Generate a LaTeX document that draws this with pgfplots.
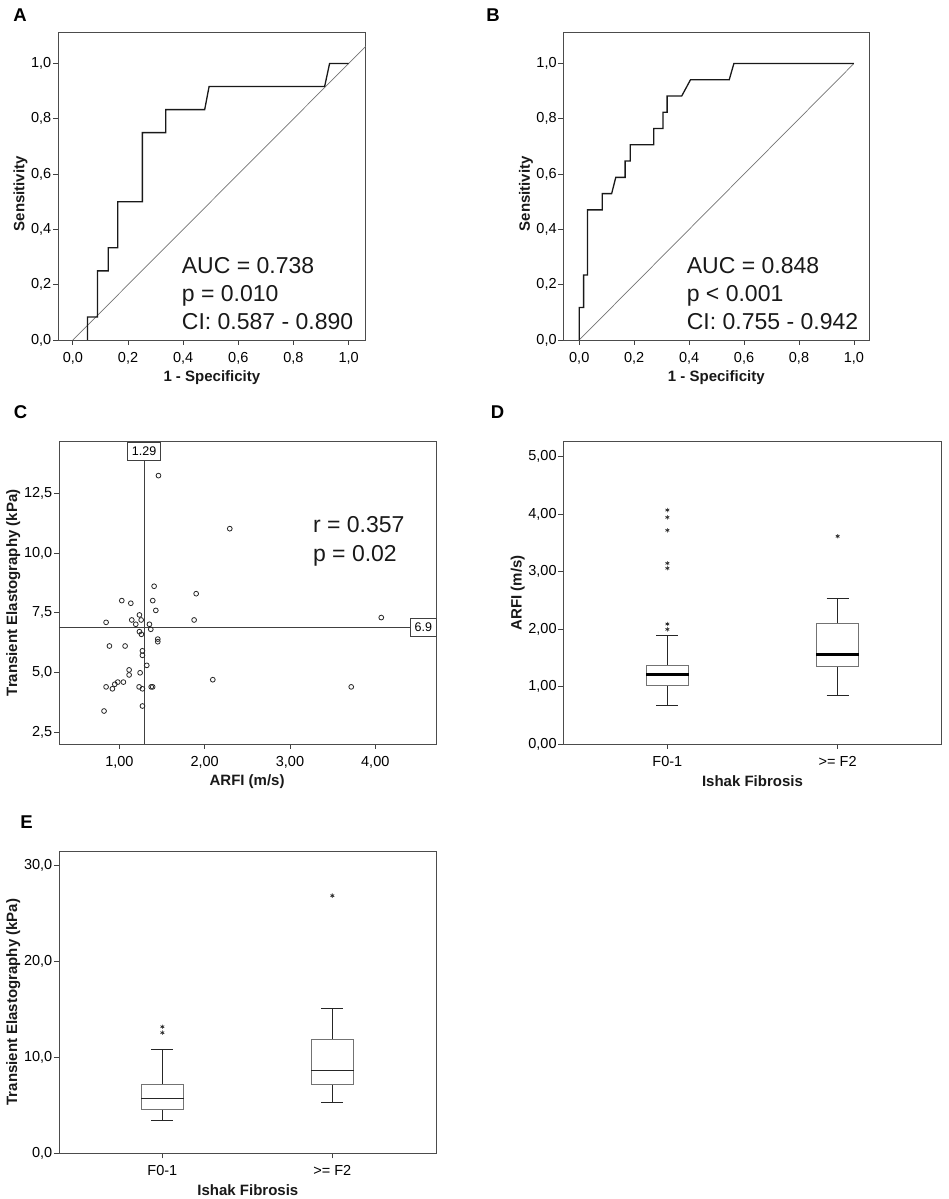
\documentclass[border=0pt]{standalone}
\usepackage{fontspec}
\setmainfont{Liberation Sans}
\usepackage{pgfplots}
\pgfplotsset{compat=1.18}
\usepgfplotslibrary{statistics}

\pgfplotstableread{
x y
1.458 13.24
2.294 11.02
1.407 8.61
1.900 8.30
1.028 8.01
1.134 7.90
1.391 8.01
1.427 7.60
0.844 7.10
1.145 7.20
1.235 7.41
1.255 7.20
1.192 7.02
1.352 7.02
1.368 6.81
1.876 7.20
4.070 7.30
1.235 6.71
1.258 6.60
1.450 6.40
1.450 6.29
0.883 6.11
1.067 6.11
1.270 5.91
1.270 5.72
1.321 5.30
1.114 5.11
1.114 4.90
1.243 4.99
1.047 4.60
0.981 4.60
0.946 4.51
0.918 4.32
0.844 4.40
1.231 4.40
1.270 4.32
1.373 4.40
1.390 4.40
2.095 4.70
3.718 4.40
0.820 3.39
1.270 3.60
}\scatterdata

\tikzset{
  bigtext/.style={font=\fontsize{23}{27}\selectfont, text=black!90, anchor=base west, inner sep=0pt},
  letter/.style={font=\bfseries\fontsize{18.5}{22}\selectfont, anchor=center},
}

\pgfplotsset{
  panel/.style={
    scale only axis,
    axis line style={draw=black!70, line width=0.8pt},
    tick align=outside,
    major tick length=5pt,
    xtick pos=bottom, ytick pos=left,
    tick style={black!75, line width=0.8pt},
    ticklabel style={font=\fontsize{14.5}{17}\selectfont, text=black},
    yticklabel style={inner xsep=1.5pt},
    xticklabel style={yshift=-3.5pt},
    label style={font=\bfseries\fontsize{15}{18}\selectfont, text=black!90},
    clip=true,
  },
  roc/.style={panel, ymin=0, ymax=1.113,
    xtick={0,0.2,0.4,0.6,0.8,1},
    xticklabels={{0,0},{0,2},{0,4},{0,6},{0,8},{1,0}},
    ytick={0,0.2,0.4,0.6,0.8,1},
    yticklabels={{0,0},{0,2},{0,4},{0,6},{0,8},{1,0}},
    xlabel={1 - Specificity}, ylabel={Sensitivity},
    xlabel style={at={(axis description cs:0.5,-0.1225)}, anchor=center},
    ylabel style={at={(axis description cs:-0.122,0.475)}, anchor=center},
  },
  bx/.style={draw=black!55, line width=0.9pt,
    boxplot/draw direction=y,
    boxplot/every whisker/.style={black!85, line width=1pt}},
}

\begin{document}
\begin{tikzpicture}
\path[use as bounding box] (0,0) rectangle (948pt,1199pt);

% Panel letters
\node[letter] at (20pt,1184pt) {A};
\node[letter] at (493pt,1184pt) {B};
\node[letter] at (20.5pt,787pt) {C};
\node[letter] at (497.5pt,787pt) {D};
\node[letter] at (26.5pt,377pt) {E};

% ---------- A ----------
\begin{axis}[roc, at={(58pt,859pt)}, anchor=south west,
  width=307.7pt, height=307.7pt, xmin=-0.054, xmax=1.062]
\addplot[black!55, line width=0.7pt] coordinates {(0,0) (1.062,1.062)};
\addplot[black!90, line width=1.3pt] coordinates {
(0.053,0) (0.053,0.0833) (0.089,0.0833) (0.089,0.25) (0.128,0.25)
(0.128,0.3333) (0.163,0.3333) (0.163,0.5) (0.252,0.5) (0.252,0.75)
(0.337,0.75) (0.337,0.8333) (0.478,0.8333) (0.494,0.9167) (0.913,0.9167)
(0.931,1) (1,1)};
\node[bigtext] at (rel axis cs:0.402,0.2145) {AUC = 0.738};
\node[bigtext] at (rel axis cs:0.402,0.1245) {p = 0.010};
\node[bigtext] at (rel axis cs:0.402,0.0325) {CI: 0.587 - 0.890};
\end{axis}

% ---------- B ----------
\begin{axis}[roc, at={(563.3pt,859pt)}, anchor=south west,
  width=306pt, height=307.7pt, xmin=-0.058, xmax=1.056]
\addplot[black!55, line width=0.7pt] coordinates {(0,0) (1,1)};
\addplot[black!90, line width=1.3pt] coordinates {
(0,0) (0,0.1176) (0.016,0.1176) (0.016,0.2353) (0.030,0.2353) (0.030,0.4706)
(0.084,0.4706) (0.084,0.5294) (0.118,0.5294) (0.133,0.5882) (0.167,0.5882)
(0.167,0.6471) (0.186,0.6471) (0.186,0.7059) (0.271,0.7059) (0.271,0.7647)
(0.305,0.7647) (0.305,0.8235) (0.320,0.8235) (0.320,0.8824) (0.373,0.8824)
(0.405,0.9412) (0.546,0.9412) (0.563,1) (1,1)};
\node[bigtext] at (rel axis cs:0.403,0.2145) {AUC = 0.848};
\node[bigtext] at (rel axis cs:0.403,0.1245) {p < 0.001};
\node[bigtext] at (rel axis cs:0.403,0.0325) {CI: 0.755 - 0.942};
\end{axis}

% ---------- C ----------
\begin{axis}[panel, at={(59pt,455pt)}, anchor=south west,
  width=377.7pt, height=302.3pt,
  xmin=0.292, xmax=4.72, ymin=2.01, ymax=14.66,
  xtick={1,2,3,4}, xticklabels={{1,00},{2,00},{3,00},{4,00}},
  ytick={2.5,5,7.5,10,12.5}, yticklabels={{2,5},{5,0},{7,5},{10,0},{12,5}},
  xlabel={ARFI (m/s)}, ylabel={Transient Elastography (kPa)},
  xlabel style={at={(axis description cs:0.498,-0.125)}, anchor=center},
  ylabel style={at={(axis description cs:-0.121,0.5)}, anchor=center},
]
\addplot[black!75, line width=1pt] coordinates {(1.29,2.01) (1.29,14.66)};
\addplot[black!75, line width=1pt] coordinates {(0.292,6.9) (4.72,6.9)};
\addplot[only marks, mark=o, mark size=2.4pt, black!85, mark options={line width=0.8pt}] table {\scatterdata};
\node[draw=black!75, fill=white, line width=0.8pt, font=\fontsize{12.5}{15}\selectfont,
  inner xsep=4.5pt, inner ysep=4.8pt, anchor=north] at (axis cs:1.29,14.66) {1.29};
\node[draw=black!75, fill=white, line width=0.8pt, font=\fontsize{12.5}{15}\selectfont,
  inner xsep=4.3pt, inner ysep=4.8pt, anchor=east] at (axis cs:4.72,6.9) {6.9};
\node[bigtext] at (rel axis cs:0.672,0.700) {r = 0.357};
\node[bigtext] at (rel axis cs:0.672,0.605) {p = 0.02};
\end{axis}

% ---------- D ----------
\begin{axis}[panel, at={(563.3pt,455pt)}, anchor=south west,
  width=378.4pt, height=302.3pt,
  xmin=0.389, xmax=2.611, ymin=0, ymax=5.26,
  xtick={1,2}, xticklabels={F0-1,{>= F2}},
  ytick={0,1,2,3,4,5}, yticklabels={{0,00},{1,00},{2,00},{3,00},{4,00},{5,00}},
  xlabel={Ishak Fibrosis}, ylabel={ARFI (m/s)},
  xlabel style={at={(axis description cs:0.5,-0.122)}, anchor=center},
  ylabel style={at={(axis description cs:-0.1205,0.5)}, anchor=center},
]
\addplot[bx, boxplot prepared={draw position=1, lower whisker=0.667, lower quartile=1.015,
  median=1.212, upper quartile=1.363, upper whisker=1.885, box extend=0.25, whisker extend=0.13},
  boxplot/every median/.style={black, line width=2.6pt}] coordinates {};
\addplot[bx, boxplot prepared={draw position=2, lower whisker=0.841, lower quartile=1.346,
  median=1.56, upper quartile=2.106, upper whisker=2.523, box extend=0.25, whisker extend=0.13},
  boxplot/every median/.style={black, line width=2.6pt}] coordinates {};
\addplot[only marks, mark=asterisk, mark size=2.2pt, black!85, mark options={line width=0.7pt}] coordinates {
(1,4.07) (1,3.944) (1,3.718) (1,3.144) (1,3.057) (1,2.088) (1,1.995) (2,3.614)};
\end{axis}

% ---------- E ----------
\begin{axis}[panel, at={(59pt,45.7pt)}, anchor=south west,
  width=377.7pt, height=302.3pt,
  xmin=0.392, xmax=2.614, ymin=0, ymax=31.53,
  xtick={1,2}, xticklabels={F0-1,{>= F2}},
  ytick={0,10,20,30}, yticklabels={{0,0},{10,0},{20,0},{30,0}},
  xlabel={Ishak Fibrosis}, ylabel={Transient Elastography (kPa)},
  xlabel style={at={(axis description cs:0.5,-0.121)}, anchor=center},
  ylabel style={at={(axis description cs:-0.121,0.5)}, anchor=center},
]
\addplot[bx, boxplot prepared={draw position=1, lower whisker=3.44, lower quartile=4.59,
  median=5.74, upper quartile=7.20, upper whisker=10.84, box extend=0.25, whisker extend=0.13},
  boxplot/every median/.style={black!85, line width=1.5pt}] coordinates {};
\addplot[bx, boxplot prepared={draw position=2, lower whisker=5.32, lower quartile=7.20,
  median=8.65, upper quartile=11.92, upper whisker=15.12, box extend=0.25, whisker extend=0.13},
  boxplot/every median/.style={black!85, line width=1.5pt}] coordinates {};
\addplot[only marks, mark=asterisk, mark size=2.2pt, black!85, mark options={line width=0.7pt}] coordinates {
(1,13.2) (1,12.58) (2,26.87)};
\end{axis}
\end{tikzpicture}
\end{document}
